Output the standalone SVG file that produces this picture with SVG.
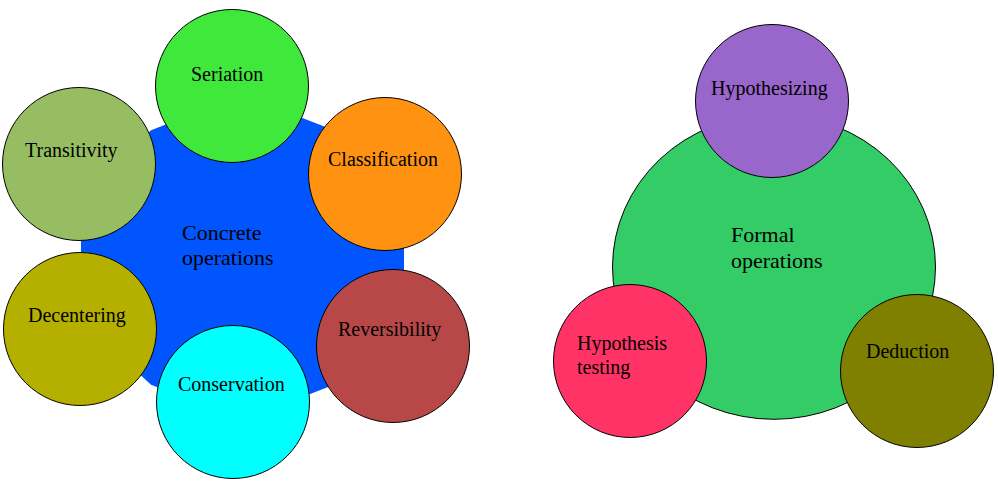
<svg xmlns="http://www.w3.org/2000/svg" width="998" height="493" viewBox="0 0 998 493">
<style>
.big{stroke:none}
.bigs{stroke:#000;stroke-width:1}
.c{stroke:#000;stroke-width:1}
text{font-family:"Liberation Serif","Times New Roman",serif;font-size:20px;fill:#000}
.lg{font-size:22px}
</style>
<rect width="998" height="493" fill="#fff"/>
<g id="concrete"><polygon class="big" fill="#0055ff" points="404,227.6 379.4,172.4 334,130.2 274.6,107.3 210.4,107.3 151,130.2 105.6,172.4 81,227.6 81,287.4 105.6,342.6 151,384.8 210.4,407.7 274.6,407.7 334,384.8 379.4,342.6 404,287.4"/><text class="lg" x="182" y="240">Concrete</text><text class="lg" x="182" y="265">operations</text></g>
<g id="seriation"><circle class="c" cx="232" cy="86" r="76.5" fill="#40e83c"/><text x="191" y="81">Seriation</text></g>
<g id="transitivity"><circle class="c" cx="79" cy="164" r="76.5" fill="#97bd62"/><text x="25" y="157">Transitivity</text></g>
<g id="classification"><circle class="c" cx="385" cy="174" r="76.5" fill="#ff9311"/><text x="328" y="166">Classification</text></g>
<g id="decentering"><circle class="c" cx="80" cy="329" r="76.5" fill="#b5b000"/><text x="28" y="322">Decentering</text></g>
<g id="conservation"><circle class="c" cx="233" cy="402" r="76.5" fill="#00ffff"/><text x="178" y="391">Conservation</text></g>
<g id="reversibility"><circle class="c" cx="393" cy="346" r="76.5" fill="#b84848"/><text x="338" y="336">Reversibility</text></g>
<g id="formal"><ellipse class="bigs" cx="774" cy="267" rx="161.5" ry="152.3" fill="#33cc66"/><text class="lg" x="731" y="242">Formal</text><text class="lg" x="731" y="268">operations</text></g>
<g id="hypothesizing"><circle class="c" cx="772" cy="101" r="76.5" fill="#9966cc"/><text x="711" y="95">Hypothesizing</text></g>
<g id="hypothesis-testing"><circle class="c" cx="630" cy="361" r="76.5" fill="#ff3366"/><text x="577" y="350">Hypothesis</text><text x="577" y="374">testing</text></g>
<g id="deduction"><circle class="c" cx="917" cy="371" r="76.5" fill="#808000"/><text x="866" y="358">Deduction</text></g>
<g id="connectors"></g>
</svg>
